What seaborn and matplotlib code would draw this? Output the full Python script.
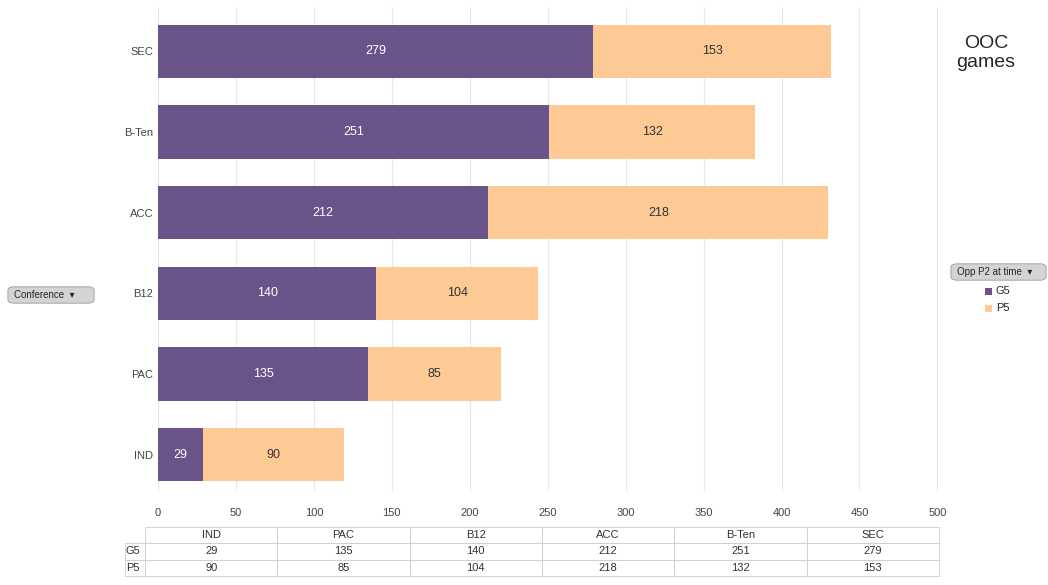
import matplotlib
matplotlib.use("Agg")
import matplotlib.pyplot as plt
import seaborn as sns
import pandas as pd
from matplotlib.patches import FancyBboxPatch

conferences = ["SEC", "B-Ten", "ACC", "B12", "PAC", "IND"]
g5 = [279, 251, 212, 140, 135, 29]
p5 = [153, 132, 218, 104, 85, 90]

purple = "#6a5389"
peach = "#fdc994"

sns.set_style("white")
plt.rcParams['font.family'] = ['Liberation Sans', 'DejaVu Sans']

fig = plt.figure(figsize=(10.48, 5.85), dpi=100)
W, H = 1048, 585
ax = fig.add_axes([158 / W, 1 - 491 / H, (939 - 158) / W, (491 - 7) / H])

df = pd.DataFrame({"Conference": conferences, "G5": g5, "P5": p5})
df["Total"] = df["G5"] + df["P5"]
sns.barplot(data=df, y="Conference", x="Total", color=peach, width=0.66, ax=ax,
            orient="h", saturation=1, linewidth=0)
sns.barplot(data=df, y="Conference", x="G5", color=purple, width=0.66, ax=ax,
            orient="h", saturation=1, linewidth=0)

for i, (a, b) in enumerate(zip(g5, p5)):
    ax.text(a / 2, i, str(a), ha="center", va="center", color="white", fontsize=9)
    ax.text(a + b / 2, i, str(b), ha="center", va="center", color="#333333", fontsize=9)

ax.set_xlim(0, 501)
ax.set_xticks(range(0, 501, 50))
ax.set_ylim(5.45, -0.55)
ax.grid(axis="x", color="#e6e6e6", lw=0.8)
ax.set_axisbelow(True)
ax.set_xlabel("")
ax.set_ylabel("")
for s in ax.spines.values():
    s.set_visible(False)
ax.tick_params(axis="both", labelsize=8, colors="#444444", length=0)
ax.tick_params(axis="x", pad=12)

# titles and legend
fig.text(986 / W, 1 - 53 / H, "OOC\ngames", ha="center", va="center", fontsize=14)

def button(x, y, w, h, label):
    fig.patches.append(FancyBboxPatch((x / W, 1 - (y + h) / H), w / W, h / H,
                                      boxstyle="round,pad=0.002,rounding_size=0.006",
                                      transform=fig.transFigure, fc="#d4d4d4", ec="#999999", lw=0.6))
    fig.text((x + 4) / W, 1 - (y + h / 2) / H, label + "  \u25be", fontsize=7, va="center")

button(10, 288, 82, 14, "Conference")
button(953, 265, 91, 14, "Opp P2 at time")
for k, (lab, c) in enumerate([("G5", purple), ("P5", peach)]):
    yy = 291 + k * 17
    fig.patches.append(plt.Rectangle((985 / W, 1 - (yy + 4) / H), 7 / W, 7 / H,
                                     transform=fig.transFigure, fc=c, ec="none"))
    fig.text(996 / W, 1 - yy / H, lab, fontsize=8, va="center")

# data table
tax = fig.add_axes([125 / W, 1 - 576 / H, (939 - 125) / W, (576 - 527) / H])
tax.axis("off")
order = conferences[::-1]
cells = [[""] + order,
         ["G5"] + [str(v) for v in g5[::-1]],
         ["P5"] + [str(v) for v in p5[::-1]]]
cw0 = (145 - 125) / (939 - 125)
cw = (1 - cw0) / 6
tbl = tax.table(cellText=cells, bbox=[0, 0, 1, 1], colWidths=[cw0] + [cw] * 6, cellLoc="center")
tbl.auto_set_font_size(False)
for (r, c), cell in tbl.get_celld().items():
    cell.set_edgecolor("#cccccc")
    cell.set_linewidth(0.6)
    cell.set_fontsize(8)
    cell.get_text().set_color("#333333")
    if c == 0:
        cell.get_text().set_ha("left")
        cell.PAD = 0.05
        if r == 0:
            cell.set_edgecolor("white")

fig.savefig("out.png", dpi=100)
